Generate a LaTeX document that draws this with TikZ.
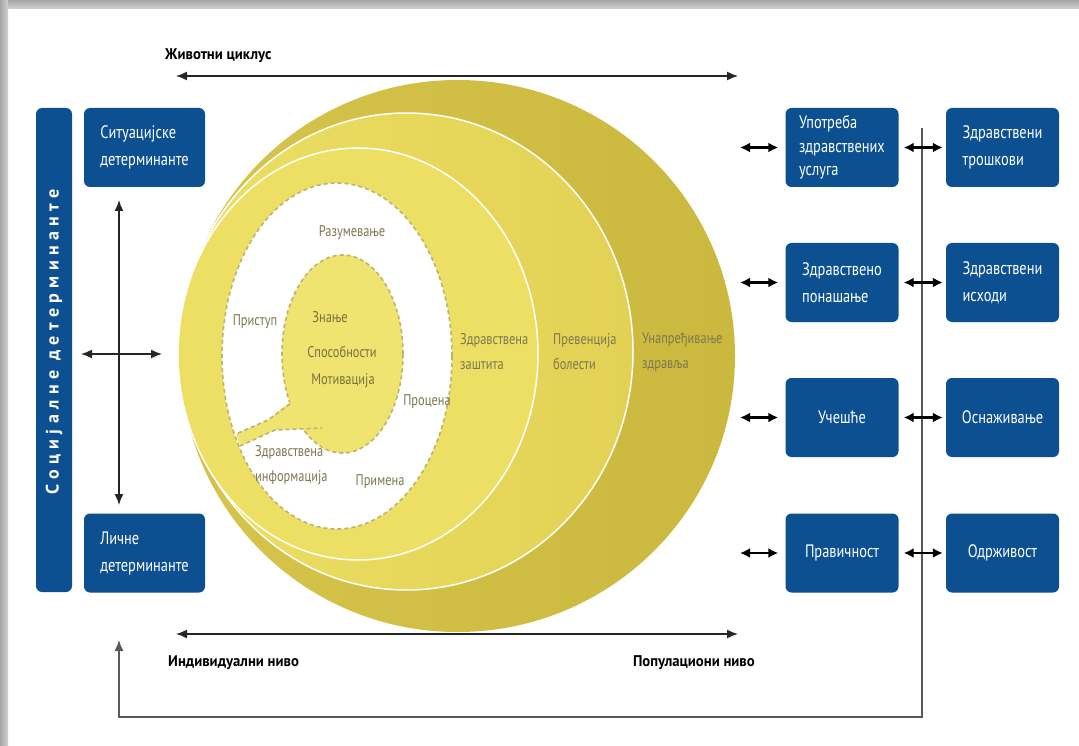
\documentclass[tikz,border=0pt]{standalone}
\usepackage{fontspec}
\setmainfont{PT Sans}[FakeStretch=0.8]
\newfontfamily\barfont{PT Sans}[LetterSpace=30]
\newfontfamily\axisfont{PT Sans}[FakeStretch=0.95]
\usetikzlibrary{arrows.meta}
\definecolor{boxblue}{RGB}{12,80,146}
\definecolor{goldA}{RGB}{214,196,76}
\definecolor{goldB}{RGB}{203,184,62}
\definecolor{goldC}{RGB}{226,209,84}
\definecolor{goldD}{RGB}{236,223,100}
\definecolor{goldE}{RGB}{239,228,112}
\definecolor{dashcol}{RGB}{188,180,110}
\definecolor{ringtext}{RGB}{125,119,82}
\definecolor{innertext}{RGB}{120,113,62}
\tikzset{
  bluebox/.style={fill=boxblue, rounded corners=6pt, text=white, align=left, inner sep=0pt,
    font=\fontsize{18}{27}\selectfont},
  rbox/.style={bluebox, minimum width=113pt, minimum height=79pt},
  lbox/.style={bluebox, minimum width=121pt, minimum height=79pt},
  ringlbl/.style={text=ringtext, font=\fontsize{15.5}{25}\selectfont, align=left, inner sep=0pt},
  innerlbl/.style={text=innertext, font=\fontsize{15.5}{25}\selectfont, inner sep=0pt},
  axislbl/.style={font=\axisfont\bfseries\fontsize{15.5}{18}\selectfont, text=black, inner sep=0pt},
  bigarr/.style={{Latex[length=11pt,width=9pt]}-{Latex[length=11pt,width=9pt]}, line width=1.5pt, draw=black!85},
  smallarr/.style={{Latex[length=10pt,width=10pt]}-{Latex[length=10pt,width=10pt]}, line width=2.2pt, draw=black},
  fbline/.style={draw=black!65, line width=1.3pt},
  dashline/.style={draw=dashcol, line width=1.6pt, dash pattern=on 4pt off 3pt},
}
\begin{document}
\begin{tikzpicture}[x=1pt,y=-1pt]
\useasboundingbox (0,0) rectangle (1079,746);
\fill[white] (0,0) rectangle (1079,746);
% frame shadow
\shade[top color=gray!70, bottom color=gray!35] (0,0) rectangle (1079,9);
\shade[left color=gray!70, right color=gray!35] (0,0) rectangle (8,746);

% discs
\shade[left color=goldA, right color=goldB] (457.5,356) ellipse [x radius=277.5pt, y radius=276pt];
\shade[left color=goldD, right color=goldC] (406.5,351.5) ellipse [x radius=226.5pt, y radius=238.5pt];
\draw[white, line width=1.5pt] (406.5,351.5) ellipse [x radius=226.5pt, y radius=238.5pt];
\fill[goldD] (358,354) ellipse [x radius=180pt, y radius=206pt];
\draw[white, line width=1.5pt] (358,354) ellipse [x radius=180pt, y radius=206pt];
% white ring
\fill[white] (337,356) ellipse [x radius=115pt, y radius=173pt];
\draw[dashline] (337,356) ellipse [x radius=115pt, y radius=173pt];
\fill[goldE] (342.5,354) ellipse [x radius=60.5pt, y radius=99pt];
\draw[dashline] (342.5,354) ellipse [x radius=60.5pt, y radius=99pt];
% tongue
\fill[goldE] (290,402) -- (268,420) -- (236,434) -- (240,446) -- (275,430) -- (322,428) -- (326,452) -- cycle;
\draw[dashline] (290,404) -- (268,420) -- (236,434);
\draw[dashline] (240,446) -- (275,430) -- (322,428);

% disc labels
\node[ringlbl] (raz) at (352,233) {Разумевање};
\node[ringlbl] (pri) at (255,322) {Приступ};
\node[innerlbl] (zna) at (330,317) {Знање};
\node[innerlbl] (spo) at (342,352) {Способности};
\node[innerlbl] (mot) at (343,381) {Мотивација};
\node[ringlbl] (pro) at (427,402) {Процена};
\node[ringlbl, anchor=west] (zinf) at (255,465) {Здравствена\\информација};
\node[ringlbl] (prim) at (380,482) {Примена};
\node[ringlbl, anchor=west] (zzas) at (460,352) {Здравствена\\заштита};
\node[ringlbl, anchor=west] (prev) at (553,352) {Превенција\\болести};
\node[ringlbl, anchor=west] (unap) at (642,352) {Унапређивање\\здравља};

% left side
\node[bluebox, minimum width=484pt, minimum height=36pt, rotate=90, align=center,
  font=\barfont\bfseries\fontsize{18}{20}\selectfont] (soc) at (54,350)
  {\hspace*{16pt}Социјалне детерминанте};
\node[lbox] (sit) at (144.5,147.5) {Ситуацијске\\детерминанте};
\node[lbox] (lich) at (144.5,553) {Личне\\детерминанте};

% right boxes
\node[rbox, font=\fontsize{18}{23.5}\selectfont] (u1) at (842,147.5) {Употреба\\здравствених\\услуга};
\node[rbox] (u2) at (1002.5,147.5) {Здравствени\\трошкови};
\node[rbox] (u3) at (842,282.5) {Здравствено\\понашање};
\node[rbox] (u4) at (1002.5,282.5) {Здравствени\\исходи};
\node[rbox, align=center] (u5) at (842,417.5) {Учешће};
\node[rbox, align=center] (u6) at (1002.5,417.5) {Оснаживање};
\node[rbox, align=center] (u7) at (842,553) {Правичност};
\node[rbox, align=center] (u8) at (1002.5,553) {Одрживост};

% axis labels and arrows
\node[axislbl, anchor=west] (zc) at (165,56) {Животни циклус};
\node[axislbl, anchor=west] (ind) at (168,663) {Индивидуални ниво};
\node[axislbl, anchor=east] (pop) at (755,663) {Популациони ниво};
\coordinate (ta) at (176,76); \coordinate (tb) at (738,76);
\coordinate (ba) at (176,634); \coordinate (bb) at (738,634);
\draw[bigarr] (ta) -- (tb);
\draw[bigarr] (ba) -- (bb);
\coordinate (ha) at (81,354); \coordinate (hb) at (162,354);
\coordinate (va) at (119,200); \coordinate (vb) at (119,505);
\draw[bigarr] (ha) -- (hb);
\draw[bigarr] (va) -- (vb);

% feedback loop
\coordinate (f0) at (922,128); \coordinate (f1) at (922,717);
\coordinate (f2) at (119,717); \coordinate (f3) at (119,640);
\draw[fbline, -{Latex[length=11pt,width=9pt]}] (f0) -- (f1) -- (f2) -- (f3);

% small arrows
\foreach \r/\y in {1/147.5, 3/282.5, 5/417.5, 7/553}{
  \coordinate (s\r) at (740,\y);
  \draw[smallarr] (s\r) -- ([xshift=-7pt]u\r.west);
}
\draw[smallarr] ([xshift=5pt]u1.east) -- ([xshift=-3pt]u2.west);
\draw[smallarr] ([xshift=5pt]u3.east) -- ([xshift=-3pt]u4.west);
\draw[smallarr] ([xshift=5pt]u5.east) -- ([xshift=-3pt]u6.west);
\draw[smallarr] ([xshift=5pt]u7.east) -- ([xshift=-3pt]u8.west);
\end{tikzpicture}
\end{document}
